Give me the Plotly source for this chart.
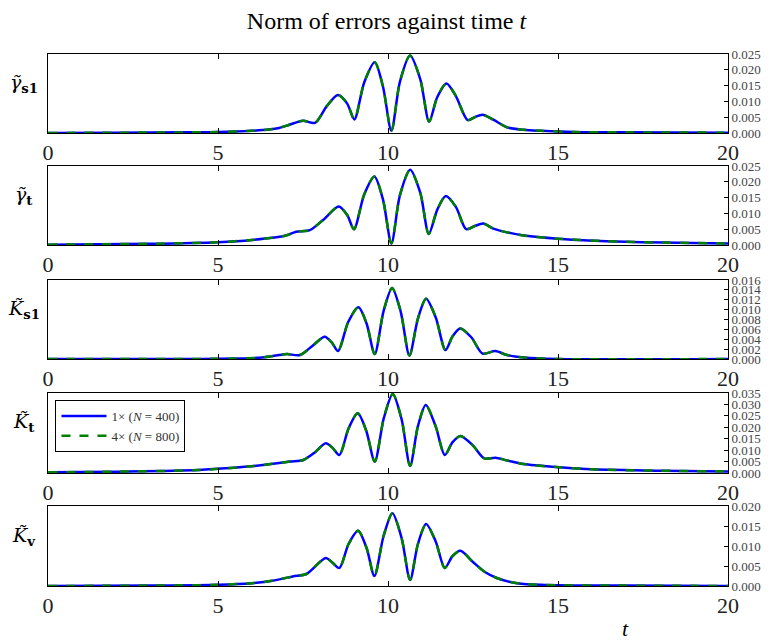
import plotly.graph_objects as go

# ---------------- data ----------------
t_gs1 = [0, 2, 4, 5, 6, 6.5, 6.8, 7.1, 7.5, 7.85, 8.2, 8.53, 8.8, 9.01, 9.3, 9.61, 9.85, 10.1,
         10.35, 10.65, 10.95, 11.21, 11.45, 11.72, 12.0, 12.34, 12.55, 12.78, 13.1, 13.5, 14.0,
         14.5, 15.5, 17, 20]
v_gs1 = [0, 0.0001, 0.0002, 0.0003, 0.0007, 0.0011, 0.0016, 0.0026, 0.0039, 0.0032, 0.0085,
         0.0120, 0.0093, 0.0043, 0.0160, 0.0224, 0.0148, 0.0007, 0.0162, 0.0245, 0.0170, 0.0036,
         0.0114, 0.0157, 0.0116, 0.0041, 0.0050, 0.0058, 0.0042, 0.0018, 0.0010, 0.0007, 0.0003,
         0.0002, 0.0001]

t_gt = [0, 3, 5, 6, 7, 7.3, 7.7, 8.1, 8.55, 8.8, 9.0, 9.3, 9.6, 9.85, 10.1, 10.35, 10.65, 10.95,
        11.2, 11.45, 11.7, 12.0, 12.3, 12.55, 12.8, 13.1, 13.5, 14, 15, 17, 20]
v_gt = [0.0001, 0.0004, 0.0009, 0.0016, 0.0030, 0.0042, 0.0047, 0.0080, 0.0122, 0.0095, 0.0050,
        0.0160, 0.0217, 0.0145, 0.0005, 0.0157, 0.0238, 0.0165, 0.0035, 0.0112, 0.0155, 0.0120,
        0.0050, 0.0060, 0.0068, 0.0052, 0.0040, 0.0030, 0.0020, 0.0010, 0.0005]

t_ks1 = [0, 4, 5.5, 6.3, 6.8, 7.03, 7.41, 7.8, 8.14, 8.35, 8.53, 8.83, 9.13, 9.37, 9.61, 9.87,
         10.12, 10.37, 10.63, 10.88, 11.12, 11.4, 11.69, 11.9, 12.12, 12.45, 12.78, 13.16, 13.5,
         14.0, 15.0, 20]
v_ks1 = [0, 0, 0.0001, 0.0003, 0.0008, 0.0010, 0.0008, 0.0028, 0.0045, 0.0033, 0.0016, 0.0075,
         0.0105, 0.0072, 0.0010, 0.0097, 0.0144, 0.0097, 0.0007, 0.0082, 0.0122, 0.0085, 0.0018,
         0.0046, 0.0062, 0.0044, 0.0011, 0.0016, 0.0008, 0.0003, 0.0000, 0]

t_kt = [0, 2, 4.42, 5.87, 6.5, 7.12, 7.51, 7.85, 8.17, 8.37, 8.57, 8.84, 9.11, 9.36, 9.61, 9.88,
        10.14, 10.4, 10.65, 10.88, 11.11, 11.4, 11.67, 11.9, 12.13, 12.5, 12.83, 13.16, 13.5,
        13.99, 15.05, 16.01, 18, 20]
v_kt = [0.0003, 0.0006, 0.0013, 0.0028, 0.0038, 0.0050, 0.0057, 0.0090, 0.0130, 0.0110, 0.0079,
        0.0195, 0.0261, 0.0185, 0.0050, 0.0242, 0.0346, 0.0235, 0.0031, 0.0205, 0.0298, 0.0205,
        0.0079, 0.0135, 0.0162, 0.0120, 0.0064, 0.0067, 0.0055, 0.0039, 0.0025, 0.0016, 0.0010,
        0.0007]

t_kv = [0, 3, 5, 6, 6.6, 7.2, 7.6, 8.17, 8.37, 8.57, 8.84, 9.12, 9.37, 9.6, 9.87, 10.13, 10.4,
        10.65, 10.88, 11.12, 11.4, 11.67, 11.9, 12.13, 12.5, 12.85, 13.2, 13.6, 14.0, 15.0, 17, 20]
v_kv = [0, 0.0001, 0.0003, 0.0007, 0.0013, 0.0024, 0.0030, 0.0070, 0.0058, 0.0045, 0.0105, 0.0138,
        0.0095, 0.0025, 0.0125, 0.0182, 0.0120, 0.0015, 0.0105, 0.0155, 0.0112, 0.0045, 0.0075,
        0.0088, 0.0060, 0.0035, 0.0020, 0.0010, 0.0005, 0.0002, 0.0001, 0]

panel_labels = ["<i>γ̃</i><sub><b>s1</b></sub>", "<i>γ̃</i><sub><b>t</b></sub>",
                "<i>K̃</i><sub><b>s1</b></sub>", "<i>K̃</i><sub><b>t</b></sub>",
                "<i>K̃</i><sub><b>v</b></sub>"]
y_max = [0.025, 0.025, 0.016, 0.035, 0.020]
y_step = [0.005, 0.005, 0.002, 0.005, 0.005]
x_ticks = [0, 5, 10, 15, 20]
series_names = ["1× (<i>N</i> = 400)", "4× (<i>N</i> = 800)"]

panels = [(t_gs1, v_gs1), (t_gt, v_gt), (t_ks1, v_ks1), (t_kt, v_kt), (t_kv, v_kv)]

# ---------------- layout geometry ----------------
W, H = 773, 641
ML, MR, MT, MB = 47.5, 36, 54, 55
ph = H - MT - MB
panel_px = [(54, 133), (166, 245), (280, 359), (393, 473), (506, 586)]
FONT = "Liberation Serif"
LABEL_FONT = "DejaVu Serif"

fig = go.Figure()
layout = dict(
    width=W, height=H, margin=dict(l=ML, r=MR, t=MT, b=MB),
    paper_bgcolor="white", plot_bgcolor="white",
    font=dict(family=FONT, color="black"),
    title=dict(text="Norm of errors against time <i>t</i>", x=0.5, xanchor="center",
               y=1 - 21 / H, yanchor="middle", yref="container",
               font=dict(size=24, family=FONT, color="black")),
    showlegend=True,
    legend=dict(x=0.011, y=(H - MB - 400) / ph, xanchor="left", yanchor="top",
                bordercolor="black", borderwidth=1, bgcolor="white",
                font=dict(size=13, family=FONT, color="#333"),
                tracegroupgap=2, itemwidth=45),
)
annotations = []

for i, ((tt, vv), (top, bot)) in enumerate(zip(panels, panel_px)):
    k = "" if i == 0 else str(i + 1)
    xa, ya = "x" + k, "y" + k
    d0 = (H - MB - bot) / ph
    d1 = (H - MB - top) / ph
    fig.add_trace(go.Scatter(x=tt, y=vv, mode="lines", xaxis=xa, yaxis=ya,
                             line=dict(color="blue", width=2.5, shape="spline", smoothing=0.8),
                             name=series_names[0], showlegend=(i == 3), legendrank=1))
    fig.add_trace(go.Scatter(x=tt, y=vv, mode="lines", xaxis=xa, yaxis=ya,
                             line=dict(color="green", width=2.5, dash="dash", shape="spline",
                                       smoothing=0.8),
                             name=series_names[1], showlegend=(i == 3), legendrank=2))
    nt = int(round(y_max[i] / y_step[i]))
    yt = [round(j * y_step[i], 4) for j in range(nt + 1)]
    layout["xaxis" + k] = dict(
        domain=[0, 1], anchor=ya, range=[0, 20], tickvals=x_ticks,
        ticktext=[str(v) for v in x_ticks], ticks="inside", ticklen=5, tickcolor="black",
        showline=True, linecolor="black", linewidth=1, mirror="allticks",
        showgrid=False, zeroline=False, tickfont=dict(size=22, family=FONT, color="#222"),
    )
    layout["yaxis" + k] = dict(
        domain=[d0, d1], anchor=xa, range=[0, y_max[i]], side="right",
        tickvals=yt, ticktext=["%.3f" % v for v in yt], ticks="inside", ticklen=4,
        tickcolor="black", showline=True, linecolor="black", linewidth=1, mirror=True,
        showgrid=False, zeroline=False, tickfont=dict(size=13, family=FONT, color="#444"),
    )
    annotations.append(dict(
        text=panel_labels[i], xref="paper", yref="paper", showarrow=False,
        x=-24 / (W - ML - MR), y=(H - MB - (top + bot) / 2 + 10) / ph,
        xanchor="center", yanchor="middle",
        font=dict(size=19, family=LABEL_FONT, color="black")))

annotations.append(dict(text="<i>t</i>", xref="paper", yref="paper", showarrow=False,
                        x=(633 - ML) / (W - ML - MR), y=(H - MB - 628) / ph,
                        xanchor="center", yanchor="middle",
                        font=dict(size=22, family=FONT, color="black")))
layout["annotations"] = annotations
fig.update_layout(**layout)
fig.write_html("out.html")
